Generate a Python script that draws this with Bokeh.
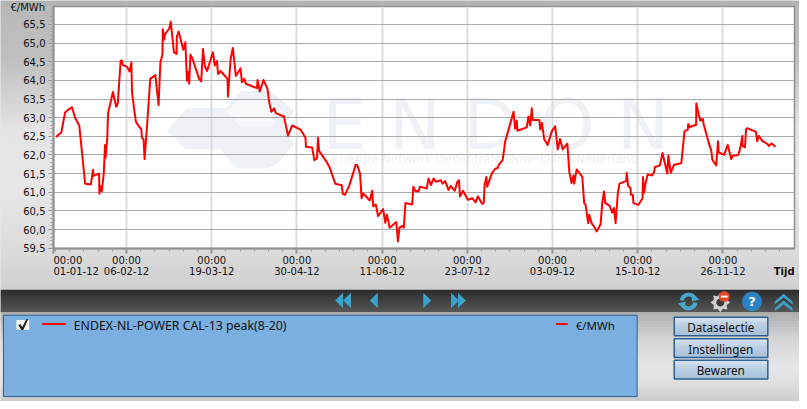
import math
import numpy as np
from bokeh.embed import file_html
from bokeh.layouts import column
from bokeh.resources import INLINE
from bokeh.plotting import figure
from bokeh.models import (BoxAnnotation, ColumnDataSource, FixedTicker, Label,
                          PolyAnnotation, Range1d)

# ---- data: days since 01-01-12, price in EUR/MWh ----
days = [1.3,2.6,3.8,5.7,7.0,9.1,10.7,12.7,15.6,18.4,19.5,19.7,22.5,22.6,23.0,23.8,24.8,25.4,25.7,26.5,
        26.9,29.3,30.9,31.7,33.1,33.6,34.2,36.3,37.5,38.4,38.7,40.0,40.7,43.3,43.6,44.4,44.9,46.1,47.7,50.2,
        51.8,52.7,53.7,53.9,54.6,55.0,57.1,57.8,59.4,60.7,60.8,61.7,64.0,65.0,65.8,66.4,66.9,67.5,68.5,71.8,
        72.8,73.7,74.6,75.7,78.6,79.5,80.6,81.1,82.4,85.8,86.0,87.3,88.4,89.9,92.2,92.9,94.1,94.8,100.3,100.6,
        101.7,103.5,105.5,106.3,107.4,108.8,109.6,113.6,115.6,117.7,121.8,124.2,124.5,127.5,128.6,129.9,130.4,130.9,134.8,136.1,
        138.9,142.1,142.6,143.7,145.9,149.0,149.8,151.1,151.9,152.7,155.9,157.1,157.6,158.9,160.0,162.5,163.6,164.4,165.7,169.0,
        169.8,170.6,171.9,172.7,173.5,176.8,177.4,178.3,179.9,180.7,184.0,184.9,186.1,187.4,188.5,191.0,191.8,193.1,194.7,195.8,
        197.8,199.1,199.9,200.4,201.9,204.3,206.4,208.1,209.2,211.3,212.1,212.5,213.4,213.8,216.2,217.8,219.0,219.4,219.9,221.4,
        222.7,225.5,226.8,227.6,228.4,228.7,233.3,234.1,235.0,235.8,236.2,239.5,240.0,240.8,241.9,243.6,245.7,247.3,248.6,249.7,
        251.0,253.3,254.3,255.4,256.3,256.7,257.9,260.7,261.6,262.3,263.6,264.1,265.2,266.8,267.8,269.7,270.6,271.4,272.0,274.1,
        275.5,276.3,277.1,278.2,279.0,282.3,282.6,283.3,284.4,284.7,285.6,285.9,288.3,290.4,290.6,291.2,291.7,292.9,295.0,296.1,
        296.4,298.9,300.2,302.6,303.1,304.3,305.9,309.5,311.1,312.7,312.9,313.7,316.8,316.9,318.1,318.9,320.1,320.5,323.0,324.3,
        324.8,326.7,327.6,327.9,330.6,332.4,334.1,334.9,337.6,338.5,339.6,339.7,340.9,341.4,342.0,346.3,346.9,347.8,349.5,352.1,
        352.6,354.0,355.9]
prices = [62.48,62.55,62.59,63.14,63.20,63.28,62.99,62.79,61.23,61.21,61.60,61.44,61.50,60.96,61.17,61.02,61.52,62.27,61.93,62.46,
          63.12,63.69,63.29,63.38,64.52,64.54,64.41,64.36,64.24,64.48,63.69,63.12,62.88,62.68,62.46,62.42,61.89,62.77,64.04,64.14,
          63.34,64.48,64.69,65.37,65.09,65.24,65.39,65.57,64.75,64.71,65.17,65.31,64.82,65.02,63.99,64.23,63.91,64.69,64.58,64.04,
          63.97,64.84,64.39,64.25,64.75,64.40,64.52,64.17,64.25,64.04,63.56,64.56,64.87,64.12,64.32,63.95,64.04,63.91,63.79,64.01,
          63.70,64.01,63.77,63.43,63.16,63.25,63.12,63.03,62.52,62.79,62.68,62.46,62.22,62.20,61.86,61.91,62.46,62.11,61.80,61.67,
          61.23,61.19,60.96,60.93,61.19,61.74,61.72,61.50,60.84,60.97,60.78,61.04,60.62,60.67,60.36,60.55,60.18,60.40,60.05,60.20,
          59.68,60.05,60.10,60.05,60.71,60.67,61.15,61.04,61.02,61.15,61.10,61.37,61.19,61.37,61.28,61.32,61.23,61.30,61.06,61.17,
          61.04,61.28,61.32,60.89,61.04,60.80,60.84,60.73,60.89,60.69,60.71,61.19,61.41,61.15,61.52,61.63,61.65,61.72,61.76,61.86,
          62.37,62.90,63.16,62.70,62.92,62.65,62.74,63.03,62.79,63.25,62.94,62.94,62.68,62.86,62.42,62.27,62.64,62.77,62.15,62.43,
          62.15,62.30,61.54,61.25,61.45,61.23,61.61,61.41,60.71,60.67,60.17,60.40,60.18,60.05,59.95,60.14,60.75,61.02,60.71,60.64,
          60.45,60.58,60.17,60.97,61.23,61.30,61.52,61.17,61.12,60.93,60.93,60.71,60.66,60.84,61.41,60.99,61.19,61.48,61.45,61.54,
          61.67,61.72,62.05,61.50,61.98,61.52,61.74,61.78,62.64,62.68,62.83,62.75,62.81,63.38,63.07,62.92,62.97,62.83,62.33,62.11,
          61.87,61.72,62.37,62.07,62.00,62.27,61.89,61.98,62.00,62.17,62.51,62.24,62.20,62.68,62.72,62.62,62.37,62.51,62.37,62.29,
          62.24,62.31,62.22]

x_tick_days = [0, 36, 78, 120, 162, 204, 246, 288, 330]
x_tick_dates = ["01-01-12", "06-02-12", "19-03-12", "30-04-12", "11-06-12",
                "23-07-12", "03-09-12", "15-10-12", "26-11-12"]
x_minor_days = [d for d in range(1, 365, 7)]
y_ticks = [59.5, 60.0, 60.5, 61.0, 61.5, 62.0, 62.5, 63.0, 63.5, 64.0, 64.5, 65.0, 65.5]
y_minor = [round(59.5 + i * 0.1, 1) for i in range(65)]

SERIES_LABEL = "ENDEX-NL-POWER CAL-13 peak(8-20)"
UNIT = "\u20ac/MWh"
TIME_LABEL = "00:00"
X_TITLE = "Tijd"
BUTTONS = ["Dataselectie", "Instellingen", "Bewaren"]

# layout is specified in reference pixels, then fitted to the 799x401 canvas
RW, RH = 807, 409
W, H = 799, 401
SX, SY = W / RW, H / RH
RFL, RFR, RFT, RFB = 54, 802, 6, 253
FL, FR, FT, FB = round(RFL * SX), round(RFR * SX), round(RFT * SY), round(RFB * SY)
UI_FONT = "DejaVu Sans"
DAY_MAX = 365.3
PX_PER_DAY = (FR - FL) / DAY_MAX

# back figure: the application chrome, its frame fills the whole canvas; its x scale is the chart's day scale
bg = figure(width=W, height=H, output_backend="svg", toolbar_location=None, frame_align=False,
            x_range=Range1d(-FL / PX_PER_DAY, (W - FL) / PX_PER_DAY), y_range=Range1d(H, 0),
            x_axis_type=None, y_axis_type=None,
            min_border=0, min_border_left=0, min_border_right=0, min_border_top=0, min_border_bottom=0,
            outline_line_color=None, border_fill_color="#d0d0d0", background_fill_color="#d0d0d0")
bg.grid.visible = False

# front figure: the chart itself, transparent, with real axes
p = figure(width=W, height=H, output_backend="svg", toolbar_location=None, frame_align=False,
           x_range=Range1d(0, DAY_MAX), y_range=Range1d(59.492, 65.98),
           min_border_left=FL, min_border_right=W - FR, min_border_top=FT, min_border_bottom=H - FB,
           background_fill_color=None, border_fill_color=None, margin=(-H, 0, 0, 0),
           outline_line_color="#8f8f8f", outline_line_width=1.5)


def box(x0, y0, x1, y1, color, line=None, lw=1):
    bg.add_layout(BoxAnnotation(left=x0 * SX, right=x1 * SX, top=y0 * SY, bottom=y1 * SY,
                                left_units="canvas", right_units="canvas", top_units="canvas", bottom_units="canvas",
                                fill_color=color, fill_alpha=1 if color else 0, line_color=line,
                                line_alpha=1 if line else 0, line_width=lw, editable=False))


def poly(pts, color):
    bg.add_layout(PolyAnnotation(xs=[float(q[0]) * SX for q in pts], ys=[float(q[1]) * SY for q in pts],
                                 xs_units="canvas", ys_units="canvas", fill_color=color, fill_alpha=1, line_alpha=0))


def text(x, y, s, size=10, color="#111111", align="left", style="normal", font=UI_FONT, x_units="canvas"):
    bg.add_layout(Label(x=x * SX if x_units == "canvas" else x, y=y * SY, x_units=x_units, y_units="canvas", text=s,
                        text_font=font, text_font_size=f"{size}px", text_color=color, text_align=align,
                        text_baseline="middle", text_font_style=style))


def hexcol(c):
    return "#%02x%02x%02x" % tuple(int(round(v)) for v in c)


def gradient(x0, x1, y0, y1, stops, step=3, seam=1):
    ys = [s[0] for s in stops]
    cols = [s[1] for s in stops]
    for y in range(y0, y1, step):
        g = [np.interp(y, ys, [c[i] for c in cols]) for i in range(3)]
        box(x0, y, x1, min(y + step + seam, y1), hexcol(g))


def gray(v):
    return (v, v, v)


# page background
BG = [(0, gray(178)), (5, gray(178)), (6, gray(184)), (60, gray(192)), (100, gray(212)),
      (130, gray(229)), (190, gray(231)), (250, gray(220)), (295, gray(207))]
gradient(0, RW, 0, 295, BG)
gradient(0, RW, 295, 318, [(295, gray(46)), (318, gray(88))], step=2)
gradient(0, RW, 318, RH, [(318, gray(176)), (345, gray(214)), (372, gray(230)), (390, gray(222)), (409, gray(200))])
box(RFL, RFT, RFR, RFB, "#ffffff")

# watermark
WM = "#eef1f6"
poly([(168, 132), (188, 110), (228, 110), (243, 92), (273, 92), (297, 113), (285, 128), (297, 146), (280, 166),
      (270, 171), (238, 171), (222, 152), (187, 152)], WM)
poly([(228, 113), (240, 102), (270, 102), (285, 113), (273, 128), (242, 128)], "#f6f8fb")
text(325, 127, "E N D O N", size=70, color=WM)
text(335, 162, "Energie Network Decentrale Opwekking Nederland", size=12, color=WM)

# axes of the chart
ax = p.xaxis[0]
ay = p.yaxis[0]
ax.ticker = FixedTicker(ticks=x_tick_days, minor_ticks=x_minor_days)
ay.ticker = FixedTicker(ticks=y_ticks, minor_ticks=y_minor)
ax.major_label_overrides = {d: "" for d in x_tick_days}
ay.major_label_overrides = {v: f"{v:.1f}".replace(".", ",") for v in y_ticks}
for a in (ax, ay):
    a.axis_line_color = "#8f8f8f"
    a.axis_line_width = 2
    a.major_tick_line_color = "#8f8f8f"
    a.minor_tick_line_color = "#a0a0a0"
    a.major_tick_in = 0
    a.minor_tick_in = 0
    a.major_tick_out = 5
    a.minor_tick_out = 3
    a.major_label_text_font = UI_FONT
    a.major_label_text_font_size = "10px"
    a.major_label_text_color = "#111111"
    a.major_label_standoff = 3
ax.major_tick_line_width = 2
p.xgrid[0].grid_line_color = "#dcdcdc"
p.xgrid[0].grid_line_width = 2
p.ygrid[0].grid_line_color = "#a9a9a9"
p.ygrid[0].grid_line_width = 1

source = ColumnDataSource(data=dict(day=days, price=prices))
p.line("day", "price", source=source, line_color="#ff0000", line_width=2, line_join="round")

# axis captions
text(45, 7, UNIT, align="right")
for d, s in zip(x_tick_days, x_tick_dates):
    al = "left" if d == 0 else "center"
    text(d, 265, TIME_LABEL, align=al, x_units="data")
    text(d, 276, s, align=al, x_units="data")
text(781, 276, X_TITLE, style="bold")

# navigation icons
NAV = "#3ba2cb"
for pts in ([(338, 306), (346, 298), (346, 314)], [(346, 306), (354, 298), (354, 314)],
            [(373, 306), (381, 298), (381, 314)],
            [(435, 306), (427, 298), (427, 314)],
            [(463, 306), (455, 298), (455, 314)], [(470, 306), (462, 298), (462, 314)]):
    poly(pts, NAV)


def arc(cx, cy, r0, r1, a0, a1, n=16):
    t = np.linspace(a0, a1, n)
    return [(cx + r1 * math.cos(a), cy + r1 * math.sin(a)) for a in t] + \
           [(cx + r0 * math.cos(a), cy + r0 * math.sin(a)) for a in t[::-1]]


def circle(cx, cy, r, n=28):
    return [(cx + r * math.cos(2 * math.pi * i / n), cy + r * math.sin(2 * math.pi * i / n)) for i in range(n)]


# refresh
poly(arc(695, 307, 5, 9, math.radians(190), math.radians(330)), "#45a9cf")
poly(arc(695, 307, 5, 9, math.radians(10), math.radians(150)), "#45a9cf")
poly([(699, 299), (706, 305), (698, 307)], "#45a9cf")
poly([(691, 315), (684, 309), (692, 307)], "#45a9cf")
# gear
gear = []
for i in range(16):
    r = 10 if i % 2 == 0 else 7
    a = 2 * math.pi * i / 16
    gear.append((727 + r * math.cos(a), 308 + r * math.sin(a)))
poly(gear, "#cfcfcf")
poly(circle(727, 308, 4), "#3a3a3a")
poly(circle(731, 302, 5.5), "#e0492c")
box(727.5, 301, 734.5, 303, "#f4f4f4")
# help
poly(circle(759, 307, 10), "#2a82c2")
text(759, 307, "?", size=13, color="#ffffff", align="center", style="bold")
# collapse chevrons
for dy in (0, 7):
    poly([(782, 307 + dy), (791, 299 + dy), (800, 307 + dy), (800, 310 + dy), (791, 303 + dy), (782, 310 + dy)], NAV)

# legend panel
box(3, 321, 643, 404, "#7aafdf", line="#2f5f8e")
box(16, 326, 29, 336, "#f4f4f4")
poly([(18, 331), (20, 330), (22, 333), (26, 325), (28, 325), (23, 336), (21, 336)], "#222222")
box(42, 329, 66, 331, "#ff0000")
text(74, 331, SERIES_LABEL, size=12.3, font="Noto Sans")
box(561, 329, 573, 331, "#ff0000")
text(581, 331, UNIT, size=11.5, font="Noto Sans")

# buttons
for i, label in enumerate(BUTTONS):
    top = 323 + 22 * i
    gradient(681, 775, top, top + 19, [(top, (212, 227, 241)), (top + 7, (186, 207, 226)), (top + 19, (166, 191, 216))],
             step=2)
    box(680.5, top, 775, top + 19, None, line="#2f5f8e", lw=1.5)
    text(727.5, top + 10, label, size=11.7, align="center", font="Noto Sans")

open("out.html", "w").write(file_html(column(bg, p, spacing=0), INLINE))
